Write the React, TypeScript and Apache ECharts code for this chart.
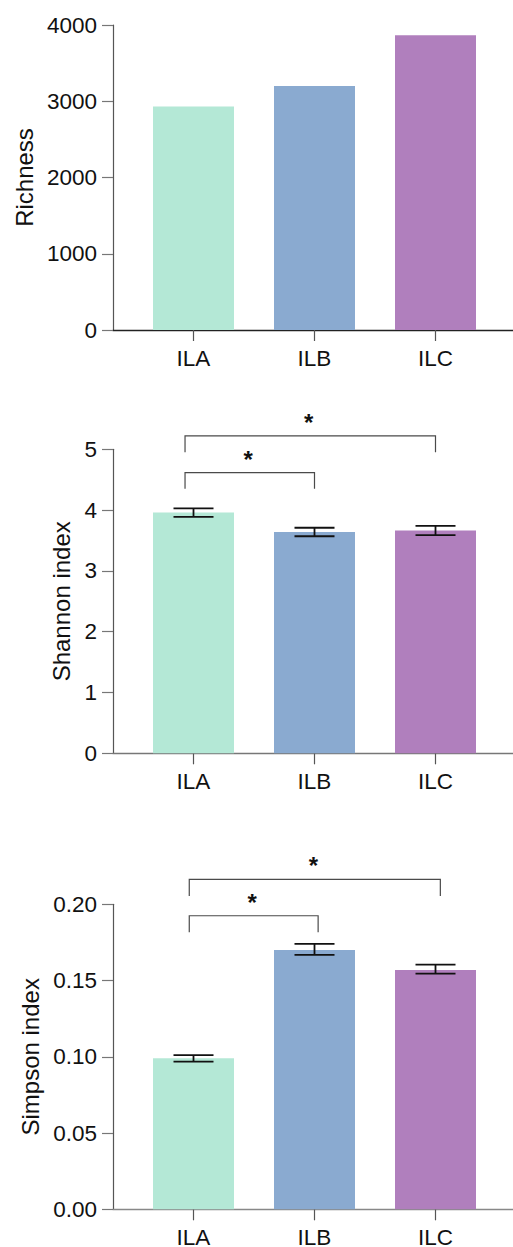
import React, { useEffect, useRef } from "react";
import * as echarts from "echarts";

// ---------- data ----------
const categories = ["ILA", "ILB", "ILC"];
const barColors = ["#B4E8D6", "#8AAAD0", "#B07FBD"];

const richness = [2930, 3200, 3865];

const shannonMean = [3.96, 3.64, 3.665];
const shannonLow = [3.89, 3.57, 3.59];
const shannonHigh = [4.03, 3.71, 3.74];

const simpsonMean = [0.099, 0.17, 0.157];
const simpsonLow = [0.0968, 0.1668, 0.1545];
const simpsonHigh = [0.1011, 0.174, 0.1604];

// significance brackets: [fromX, toX, bracketY, legEndY]
const shannonSig = [
  [-0.07, 1.0, 4.615, 4.35],
  [-0.07, 2.0, 5.22, 4.95],
];
const shannonSigLabels = ["*", "*"];
const simpsonSig = [
  [-0.035, 1.03, 0.1925, 0.1816],
  [-0.035, 2.04, 0.2164, 0.2054],
];
const simpsonSigLabels = ["*", "*"];

// ---------- helpers ----------
const FONT = "Liberation Sans, Arial, sans-serif";
const X_MIN = (113 - 193.5) / 121;
const X_MAX = (513 - 193.5) / 121;

function makeXAxis(gridIndex: number, lineColor: string) {
  return {
    type: "value",
    gridIndex,
    min: X_MIN,
    max: X_MAX,
    splitLine: { show: false },
    axisLine: { show: true, onZero: false, lineStyle: { color: lineColor, width: 1.3 } },
    axisTick: {
      show: true,
      customValues: [0, 1, 2],
      length: 11,
      lineStyle: { color: "#555", width: 1.2 },
    },
    axisLabel: {
      show: true,
      customValues: [0, 1, 2],
      formatter: (v: number) => categories[Math.round(v)] ?? "",
      fontSize: 22.5,
      fontFamily: FONT,
      color: "#111",
      margin: 17,
    },
  };
}

function makeYAxis(
  gridIndex: number,
  name: string,
  max: number,
  interval: number,
  nameGap: number,
  decimals: number
) {
  return {
    type: "value",
    gridIndex,
    min: 0,
    max,
    interval,
    name,
    nameLocation: "middle",
    nameGap,
    nameTextStyle: { fontSize: 24, fontFamily: FONT, color: "#111" },
    splitLine: { show: false },
    axisLine: { show: true, onZero: false, lineStyle: { color: "#555", width: 1.2 } },
    axisTick: { show: true, length: 11, lineStyle: { color: "#777", width: 1.2 } },
    axisLabel: {
      fontSize: 22.5,
      fontFamily: FONT,
      color: "#111",
      margin: 16,
      formatter: (v: number) => v.toFixed(decimals),
    },
  };
}

function barSeries(idx: number, values: number[]) {
  return {
    type: "bar",
    xAxisIndex: idx,
    yAxisIndex: idx,
    barWidth: 81,
    z: 2,
    data: values.map((v, i) => ({ value: [i, v], itemStyle: { color: barColors[i] } })),
  };
}

function errorSeries(idx: number, low: number[], high: number[]) {
  return {
    type: "custom",
    xAxisIndex: idx,
    yAxisIndex: idx,
    clip: false,
    z: 10,
    encode: { x: 0, y: [1, 2] },
    data: low.map((l, i) => [i, l, high[i]]),
    renderItem: (params: any, api: any) => {
      const x = api.value(0);
      const pLo = api.coord([x, api.value(1)]);
      const pHi = api.coord([x, api.value(2)]);
      const hw = 20;
      const st = { stroke: "#111", lineWidth: 1.8 };
      return {
        type: "group",
        children: [
          { type: "line", shape: { x1: pLo[0], y1: pLo[1], x2: pHi[0], y2: pHi[1] }, style: st },
          { type: "line", shape: { x1: pLo[0] - hw, y1: pLo[1], x2: pLo[0] + hw, y2: pLo[1] }, style: st },
          { type: "line", shape: { x1: pHi[0] - hw, y1: pHi[1], x2: pHi[0] + hw, y2: pHi[1] }, style: st },
        ],
      };
    },
  };
}

function sigSeries(idx: number, sig: number[][], labels: string[]) {
  return {
    type: "custom",
    xAxisIndex: idx,
    yAxisIndex: idx,
    clip: false,
    silent: true,
    z: 10,
    encode: { x: [0, 1], y: [2, 3] },
    data: sig,
    renderItem: (params: any, api: any) => {
      const a = api.coord([api.value(0), api.value(2)]);
      const b = api.coord([api.value(1), api.value(2)]);
      const la = api.coord([api.value(0), api.value(3)]);
      const lb = api.coord([api.value(1), api.value(3)]);
      const st = { stroke: "#4a4a4a", lineWidth: 1.2 };
      return {
        type: "group",
        children: [
          {
            type: "polyline",
            shape: { points: [[la[0], la[1]], [a[0], a[1]], [b[0], b[1]], [lb[0], lb[1]]] },
            style: { ...st, fill: "none" },
          },
          {
            type: "text",
            x: (a[0] + b[0]) / 2 - 1.5,
            y: a[1] - 13.5,
            style: {
              text: labels[params.dataIndex],
              align: "center",
              verticalAlign: "middle",
              fontSize: 24,
              fontWeight: "bold",
              fontFamily: FONT,
              fill: "#111",
            },
          },
        ],
      };
    },
  };
}

export default function App() {
  const ref = useRef<HTMLDivElement>(null);

  useEffect(() => {
    if (!ref.current) return;
    const chart = echarts.init(ref.current, undefined, { renderer: "svg" });
    chart.setOption({
      animation: false,
      backgroundColor: "#ffffff",
      grid: [
        { left: 113, width: 400, top: 25, height: 305, outerBoundsMode: "none" },
        { left: 113, width: 400, top: 449.3, height: 304, outerBoundsMode: "none" },
        { left: 113, width: 400, top: 904.3, height: 305, outerBoundsMode: "none" },
      ],
      xAxis: [makeXAxis(0, "#222"), makeXAxis(1, "#777"), makeXAxis(2, "#888")],
      yAxis: [
        makeYAxis(0, "Richness", 4000, 1000, 77, 0),
        makeYAxis(1, "Shannon index", 5, 1, 37.6, 0),
        makeYAxis(2, "Simpson index", 0.2, 0.05, 70, 2),
      ],
      series: [
        barSeries(0, richness),
        barSeries(1, shannonMean),
        errorSeries(1, shannonLow, shannonHigh),
        sigSeries(1, shannonSig, shannonSigLabels),
        barSeries(2, simpsonMean),
        errorSeries(2, simpsonLow, simpsonHigh),
        sigSeries(2, simpsonSig, simpsonSigLabels),
      ],
    });
    return () => chart.dispose();
  }, []);

  return (
    <div
      ref={ref}
      style={{ position: "absolute", left: 0, top: 0, width: 513, height: 1247, background: "#fff" }}
    />
  );
}
